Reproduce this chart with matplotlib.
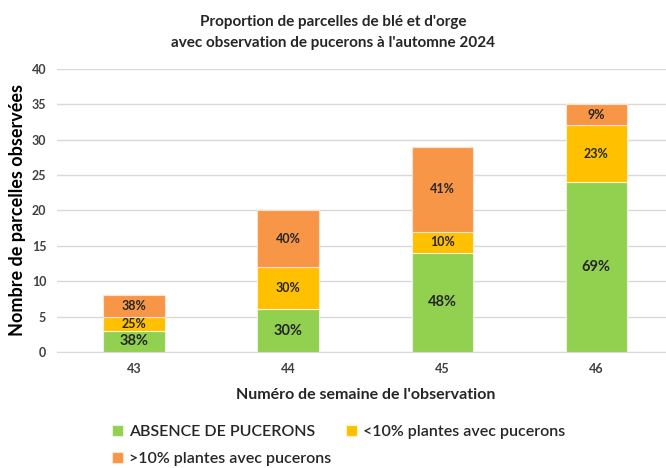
import matplotlib
matplotlib.use("Agg")
import matplotlib.pyplot as plt
import numpy as np

plt.rcParams['font.family'] = ['Lato', 'DejaVu Sans']

semaines = ["43", "44", "45", "46"]
absence = [3, 6, 14, 24]
moins10 = [2, 6, 3, 8]
plus10 = [3, 8, 12, 3]
pct_absence = ["38%", "30%", "48%", "69%"]
pct_moins10 = ["25%", "30%", "10%", "23%"]
pct_plus10 = ["38%", "40%", "41%", "9%"]

series_names = ["ABSENCE DE PUCERONS", "<10% plantes avec pucerons", ">10% plantes avec pucerons"]
colors = ["#92D050", "#FFC000", "#F79646"]
txt = "#262626"

fig = plt.figure(figsize=(6.66, 4.68), dpi=100)
ax = fig.add_axes([0.086, 0.248, 0.925, 0.605])

x = np.arange(len(semaines))
w = 0.4
b1 = ax.bar(x, absence, w, color=colors[0], edgecolor="#e8f4dc", linewidth=0.8, label=series_names[0], zorder=3)
bottom2 = np.array(absence)
b2 = ax.bar(x, moins10, w, bottom=bottom2, color=colors[1], edgecolor="#fff2cc", linewidth=0.8, label=series_names[1], zorder=3)
bottom3 = bottom2 + np.array(moins10)
b3 = ax.bar(x, plus10, w, bottom=bottom3, color=colors[2], edgecolor="#fde3d0", linewidth=0.8, label=series_names[2], zorder=3)

ax.bar_label(b1, labels=pct_absence, label_type="center", fontsize=10.5, fontweight="bold", color=txt)
ax.bar_label(b2, labels=pct_moins10, label_type="center", fontsize=9, fontweight="bold", color=txt)
ax.bar_label(b3, labels=pct_plus10, label_type="center", fontsize=9, fontweight="bold", color=txt)

ax.set_xlim(-0.5, 3.5)
ax.set_ylim(0, 40)
ax.set_yticks(range(0, 41, 5))
ax.set_xticks(x)
ax.set_xticklabels(semaines)
ax.yaxis.grid(True, color="#d9d9d9", linewidth=1, zorder=0)
ax.set_axisbelow(True)
for s in ["top", "right", "left"]:
    ax.spines[s].set_visible(False)
ax.spines["bottom"].set_color("#d9d9d9")
ax.tick_params(axis="both", length=0, labelsize=9, labelcolor="#404040", pad=8)
for lab in ax.get_xticklabels() + ax.get_yticklabels():
    lab.set_fontweight("bold")

ax.set_ylabel("Nombre de parcelles observées", fontsize=13, fontweight="bold", color="black", labelpad=4)
ax.set_xlabel("Numéro de semaine de l'observation", fontsize=11.5, fontweight="bold", color=txt, labelpad=9)

fig.text(0.5, 0.93, "Proportion de parcelles de blé et d'orge\navec observation de pucerons à l'automne 2024",
         ha="center", va="center", fontsize=11, fontweight="bold", color=txt, linespacing=1.6)

# ncol=2 fills column by column, so reorder to get row order in the legend
fig.legend(handles=[b1, b3, b2], labels=[series_names[0], series_names[2], series_names[1]],
           loc="lower left", bbox_to_anchor=(0.146, -0.027),
           ncol=2, frameon=False, handlelength=0.7, handleheight=0.7,
           columnspacing=0.9, labelspacing=0.8, handletextpad=0.4, labelcolor=txt,
           prop={"size": 11.5, "weight": "semibold"})

fig.savefig("out.png", dpi=100)
